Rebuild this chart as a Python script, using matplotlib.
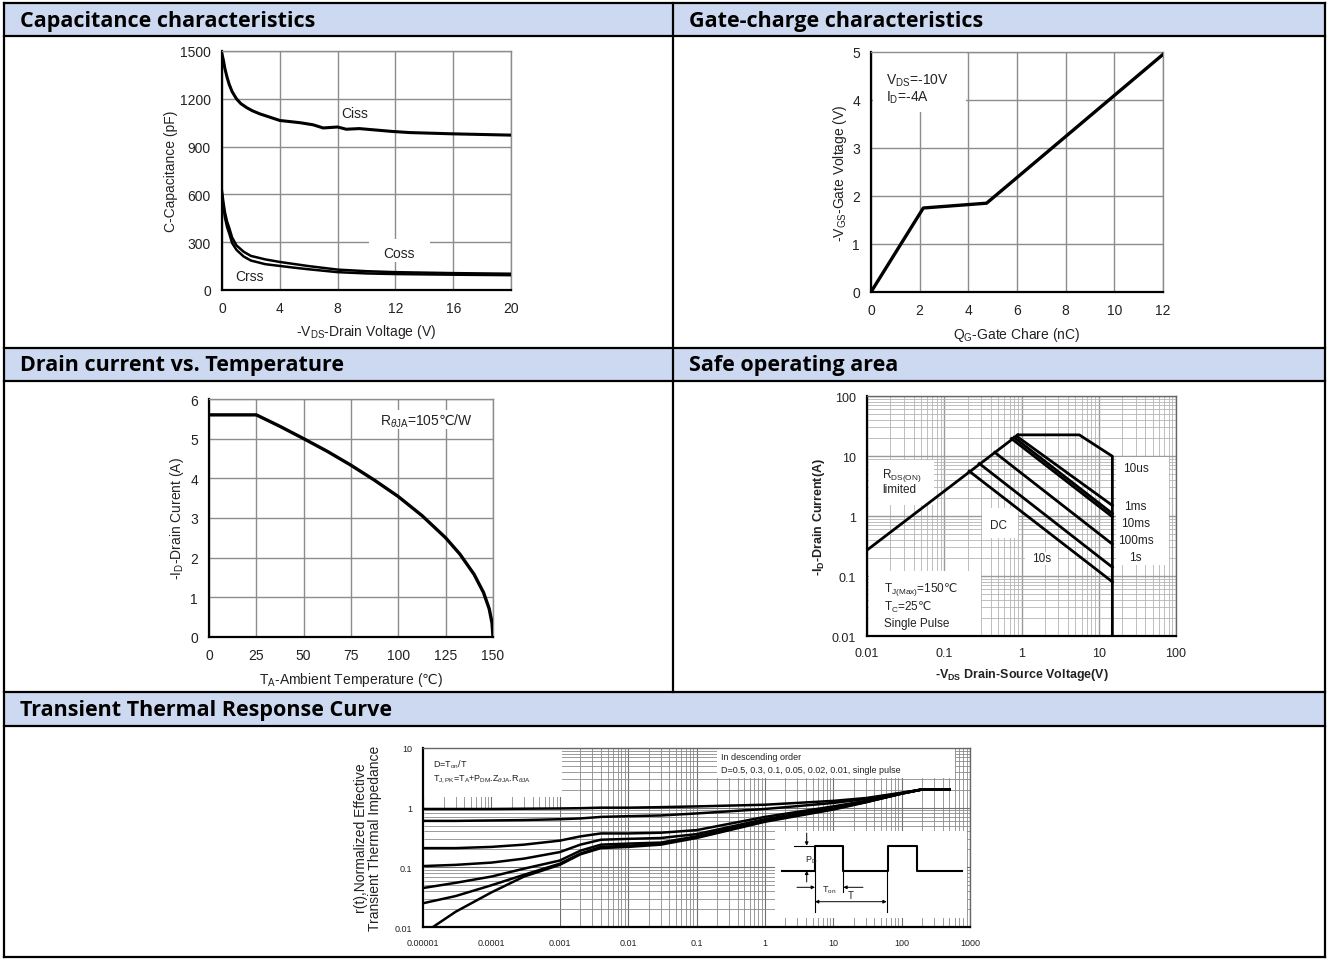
import numpy as np
import matplotlib.pyplot as plt
from matplotlib.patches import Rectangle
from matplotlib.ticker import FixedLocator, FixedFormatter, LogLocator, NullFormatter

plt.rcParams['font.family'] = ['Liberation Sans', 'DejaVu Sans']
plt.rcParams['mathtext.fontset'] = 'custom'
plt.rcParams['mathtext.rm'] = 'Liberation Sans'
plt.rcParams['mathtext.it'] = 'Liberation Sans:italic'
plt.rcParams['mathtext.bf'] = 'Liberation Sans:bold'
plt.rcParams['mathtext.sf'] = 'DejaVu Sans'

# ---------------- data ----------------
# capacitance vs -VDS
ciss_v = [0, 0.1, 0.2, 0.35, 0.5, 0.7, 1.0, 1.3, 1.7, 2.1, 2.6, 3.3, 4, 5.4, 6.3, 7, 8, 8.6, 9.5, 11.8, 13, 16, 20]
ciss_pf = [1480, 1440, 1390, 1335, 1290, 1245, 1200, 1170, 1145, 1125, 1106, 1085, 1064, 1050, 1037,
           1017, 1023, 1009, 1013, 995, 988, 980, 972]
coss_v = [0, 0.1, 0.2, 0.35, 0.5, 0.7, 1, 1.5, 2, 3, 4, 5, 6, 8, 10, 12, 16, 20]
coss_pf = [620, 550, 490, 430, 390, 330, 280, 240, 214, 192, 176, 163, 150, 128, 118, 112, 106, 102]
crss_v = [0, 0.1, 0.2, 0.35, 0.5, 0.7, 1, 1.5, 2, 3, 4, 5, 6, 8, 10, 12, 16, 20]
crss_pf = [600, 520, 455, 395, 355, 295, 252, 210, 185, 162, 151, 140, 130, 112, 104, 100, 96, 93]

# gate charge
gate_qg = [0, 2.15, 4.75, 12.0]
gate_vgs = [0, 1.75, 1.85, 4.95]

# drain current vs ambient temperature
temp_ta = [0, 25, 37.5, 50, 62.5, 75, 87.5, 100, 112.5, 125, 132.5, 140, 145, 148, 149.5, 150]
temp_id = [5.6, 5.6, 5.31, 5.0, 4.68, 4.33, 3.95, 3.54, 3.06, 2.5, 2.09, 1.58, 1.12, 0.71, 0.35, 0.0]

# safe operating area
soa_rds_v = [0.01, 0.9]
soa_rds_i = [0.27, 22.5]
soa_10us_v = [0.9, 5.6, 15, 15]
soa_10us_i = [22.5, 22.5, 9.9, 0.01]
soa_start_v = [0.86, 0.8, 0.74, 0.45, 0.284, 0.21]
soa_start_i = [21.5, 20.5, 19.5, 11.5, 7.5, 5.6]
soa_end_v = [15, 15, 15, 15, 15, 15]
soa_end_i = [1.5, 1.1, 0.97, 0.34, 0.14, 0.08]

# transient thermal impedance
zth_t = [1e-5, 3e-5, 1e-4, 3e-4, 1e-3, 2e-3, 4e-3, 1e-2, 3e-2, 1e-1, 1, 10, 30, 100, 200, 500]
zth_d05 = [0.95, 0.95, 0.95, 0.96, 0.97, 0.98, 1.0, 1.0, 1.02, 1.05, 1.12, 1.3, 1.45, 1.78, 2.02, 2.02]
zth_d03 = [0.6, 0.6, 0.61, 0.62, 0.64, 0.66, 0.7, 0.72, 0.74, 0.8, 0.95, 1.2, 1.4, 1.76, 2.02, 2.02]
zth_d01 = [0.21, 0.21, 0.22, 0.24, 0.28, 0.33, 0.37, 0.37, 0.38, 0.42, 0.7, 1.05, 1.3, 1.74, 2.02, 2.02]
zth_d005 = [0.105, 0.11, 0.12, 0.14, 0.18, 0.24, 0.29, 0.3, 0.31, 0.36, 0.64, 1.0, 1.27, 1.73, 2.02, 2.02]
zth_d002 = [0.045, 0.055, 0.07, 0.095, 0.13, 0.19, 0.24, 0.25, 0.26, 0.33, 0.61, 0.97, 1.25, 1.72, 2.02, 2.02]
zth_d001 = [0.025, 0.033, 0.05, 0.075, 0.115, 0.17, 0.22, 0.23, 0.25, 0.32, 0.6, 0.95, 1.24, 1.72, 2.02, 2.02]
zth_single_t = [1.4e-5, 3e-5, 1e-4, 3e-4, 1e-3, 2e-3, 4e-3, 1e-2, 3e-2, 1e-1, 1, 10, 30, 100, 200, 500]
zth_single = [0.01, 0.018, 0.038, 0.07, 0.11, 0.165, 0.21, 0.22, 0.24, 0.31, 0.58, 0.93, 1.23, 1.72, 2.02, 2.02]

section_titles = ['Capacitance characteristics', 'Gate-charge characteristics',
                  'Drain current vs. Temperature', 'Safe operating area',
                  'Transient Thermal Response Curve']

DEGC = r'$\mathsf{℃}$'

# ---------------- figure ----------------
W, H = 1328, 962
fig = plt.figure(figsize=(W / 100, H / 100), dpi=100)
TXT = '#222222'
GRID = '#8c8c8c'


def px_axes(x0, y0, x1, y1):
    return fig.add_axes([x0 / W, 1 - y1 / H, (x1 - x0) / W, (y1 - y0) / H])


def style_linear(ax, grid_color=GRID):
    ax.grid(True, color=grid_color, lw=1.0)
    ax.set_axisbelow(True)
    for s in ['left', 'bottom']:
        ax.spines[s].set_color('black')
        ax.spines[s].set_linewidth(1.6)
    for s in ['top', 'right']:
        ax.spines[s].set_color(grid_color)
        ax.spines[s].set_linewidth(1.0)
    ax.tick_params(length=0, labelsize=10, labelcolor=TXT, pad=8)


def mask(ax, x0, x1, y0, y1):
    ax.add_patch(Rectangle((x0, y0), x1 - x0, y1 - y0, facecolor='white',
                           edgecolor='none', zorder=1.2))


# --- capacitance ---
ax1 = px_axes(222, 52, 511, 291)
style_linear(ax1)
ax1.plot(ciss_v, ciss_pf, color='black', lw=2.2, zorder=3)
ax1.plot(coss_v, coss_pf, color='black', lw=1.8, zorder=3)
ax1.plot(crss_v, crss_pf, color='black', lw=1.8, zorder=3)
ax1.set_xlim(0, 20)
ax1.set_ylim(0, 1500)
ax1.set_xticks(range(0, 21, 4))
ax1.set_yticks(range(0, 1501, 300))
mask(ax1, 10.2, 14.4, 175, 320)
ax1.text(9.2, 1110, 'Ciss', ha='center', va='center', fontsize=10, color=TXT, zorder=4)
ax1.text(12.25, 235, 'Coss', ha='center', va='center', fontsize=10, color=TXT, zorder=4)
ax1.text(1.9, 90, 'Crss', ha='center', va='center', fontsize=10, color=TXT, zorder=4)
ax1.set_xlabel(r'-V$_\mathrm{DS}$-Drain Voltage (V)', fontsize=10, color=TXT, labelpad=5)
ax1.set_ylabel('C-Capacitance (pF)', fontsize=10, color=TXT, labelpad=1)

# --- gate charge ---
ax2 = px_axes(871, 53, 1163, 293)
style_linear(ax2)
ax2.plot(gate_qg, gate_vgs, color='black', lw=2.4, zorder=3)
ax2.set_xlim(0, 12)
ax2.set_ylim(0, 5)
ax2.set_xticks(range(0, 13, 2))
ax2.set_yticks(range(0, 6))
mask(ax2, 0.08, 3.9, 3.75, 4.97)
ax2.text(0.63, 4.42, r'V$_\mathrm{DS}$=-10V', ha='left', va='center', fontsize=10, color=TXT, zorder=4)
ax2.text(0.63, 4.06, r'I$_\mathrm{D}$=-4A', ha='left', va='center', fontsize=10, color=TXT, zorder=4)
ax2.set_xlabel(r'Q$_\mathrm{G}$-Gate Chare (nC)', fontsize=10, color=TXT, labelpad=6)
ax2.set_ylabel(r'-V$_\mathrm{GS}$-Gate Voltage (V)', fontsize=10, color=TXT, labelpad=2)

# --- drain current vs temperature ---
ax3 = px_axes(209, 400, 493, 638)
style_linear(ax3)
ax3.plot(temp_ta, temp_id, color='black', lw=2.4, zorder=3)
ax3.set_xlim(0, 150)
ax3.set_ylim(0, 6)
ax3.set_xticks(range(0, 151, 25))
ax3.set_yticks(range(0, 7))
mask(ax3, 90, 139, 5.25, 5.72)
ax3.text(115, 5.47, r'R$_{\theta\mathrm{JA}}$=105' + DEGC + '/W', ha='center', va='center',
         fontsize=10, color=TXT, zorder=4)
ax3.set_xlabel(r'T$_\mathrm{A}$-Ambient Temperature (' + DEGC + ')', fontsize=10, color=TXT,
               labelpad=6)
ax3.set_ylabel(r'-I$_\mathrm{D}$-Drain Curent (A)', fontsize=10, color=TXT, labelpad=3)


def style_log(ax, grid_major, grid_minor, lw_major, lw_minor):
    ax.set_xscale('log')
    ax.set_yscale('log')
    ax.xaxis.set_minor_locator(LogLocator(base=10, subs=range(2, 10), numticks=30))
    ax.yaxis.set_minor_locator(LogLocator(base=10, subs=range(2, 10), numticks=30))
    ax.xaxis.set_minor_formatter(NullFormatter())
    ax.yaxis.set_minor_formatter(NullFormatter())
    ax.grid(True, which='major', color=grid_major, lw=lw_major)
    ax.grid(True, which='minor', color=grid_minor, lw=lw_minor)
    ax.set_axisbelow(True)
    for s in ['left', 'bottom']:
        ax.spines[s].set_color('black')
        ax.spines[s].set_linewidth(1.6)
    for s in ['top', 'right']:
        ax.spines[s].set_color('#666666')
        ax.spines[s].set_linewidth(1.0)
    ax.tick_params(which='both', length=0, labelcolor=TXT)


# --- safe operating area ---
ax4 = px_axes(867, 397, 1176, 637)
style_log(ax4, '#9a9a9a', '#b4b4b4', 1.0, 0.6)
ax4.set_xlim(0.01, 100)
ax4.set_ylim(0.01, 100)
dec = [0.01, 0.1, 1, 10, 100]
dec_lbl = ['0.01', '0.1', '1', '10', '100']
ax4.xaxis.set_major_locator(FixedLocator(dec))
ax4.xaxis.set_major_formatter(FixedFormatter(dec_lbl))
ax4.yaxis.set_major_locator(FixedLocator(dec))
ax4.yaxis.set_major_formatter(FixedFormatter(dec_lbl))
ax4.tick_params(labelsize=9, pad=8)
mask(ax4, 0.0105, 0.074, 1.54, 8.7)
mask(ax4, 0.0105, 0.3, 0.0105, 0.12)
mask(ax4, 0.31, 0.91, 0.43, 1.37)
mask(ax4, 1.1, 3.0, 0.15, 0.25)
mask(ax4, 16.5, 80, 0.15, 9.5)
ax4.plot(soa_rds_v, soa_rds_i, color='black', lw=2.0, zorder=3)
ax4.plot(soa_10us_v, soa_10us_i, color='black', lw=2.0, zorder=3)
for v0, i0, v1, i1 in zip(soa_start_v, soa_start_i, soa_end_v, soa_end_i):
    ax4.plot([v0, v1], [i0, i1], color='black', lw=2.0, zorder=3)
soa_txt = dict(fontsize=8.5, color=TXT, zorder=4)
ax4.text(0.0158, 4.9, r'R$_\mathrm{DS(ON)}$', ha='left', va='center', **soa_txt)
ax4.text(0.0158, 2.85, 'limited', ha='left', va='center', **soa_txt)
ax4.text(0.5, 0.71, 'DC', ha='center', va='center', **soa_txt)
ax4.text(1.81, 0.197, '10s', ha='center', va='center', **soa_txt)
ax4.text(30, 6.2, '10us', ha='center', va='center', **soa_txt)
ax4.text(30, 1.44, '1ms', ha='center', va='center', **soa_txt)
ax4.text(30, 0.76, '10ms', ha='center', va='center', **soa_txt)
ax4.text(30, 0.40, '100ms', ha='center', va='center', **soa_txt)
ax4.text(30, 0.21, '1s', ha='center', va='center', **soa_txt)
ax4.text(0.0165, 0.062, r'T$_\mathrm{J(Max)}$=150' + DEGC, ha='left', va='center', **soa_txt)
ax4.text(0.0165, 0.0306, r'T$_\mathrm{C}$=25' + DEGC, ha='left', va='center', **soa_txt)
ax4.text(0.0165, 0.0162, 'Single Pulse', ha='left', va='center', **soa_txt)
ax4.set_xlabel(r'-V$_\mathbf{DS}$ Drain-Source Voltage(V)', fontsize=9, fontweight='bold',
               color=TXT, labelpad=5)
ax4.set_ylabel(r'-I$_\mathbf{D}$-Drain Current(A)', fontsize=9, fontweight='bold',
               color=TXT, labelpad=3)

# --- transient thermal impedance ---
ax5 = px_axes(423, 749, 970, 928)
style_log(ax5, '#707070', '#8a8a8a', 0.8, 0.6)
ax5.set_xlim(1e-5, 1000)
ax5.set_ylim(0.01, 10)
t_dec = [1e-5, 1e-4, 1e-3, 1e-2, 1e-1, 1, 10, 100, 1000]
t_lbl = ['0.00001', '0.0001', '0.001', '0.01', '0.1', '1', '10', '100', '1000']
ax5.xaxis.set_major_locator(FixedLocator(t_dec))
ax5.xaxis.set_major_formatter(FixedFormatter(t_lbl))
ax5.yaxis.set_major_locator(FixedLocator([0.01, 0.1, 1, 10]))
ax5.yaxis.set_major_formatter(FixedFormatter(['0.01', '0.1', '1', '10']))
ax5.tick_params(labelsize=6.5, pad=8)
mask(ax5, 1.05e-5, 1.07e-3, 1.5, 9.85)
mask(ax5, 1.05e-5, 1.0e-3, 0.0105, 0.97)
for yv in [0.02, 0.03, 0.04, 0.05, 0.06, 0.07, 0.08, 0.09, 0.1, 0.2, 0.3, 0.4, 0.5, 0.6, 0.7, 0.8, 0.9]:
    ax5.hlines(yv, 1.05e-5, 1.0e-3, color='#707070' if yv == 0.1 else '#8a8a8a',
               lw=0.8 if yv == 0.1 else 0.6, zorder=1.3)
mask(ax5, 0.2, 600, 3.2, 9.85)
mask(ax5, 1.4, 900, 0.014, 0.4)
for tt, zz in [(zth_t, zth_d05), (zth_t, zth_d03), (zth_t, zth_d01), (zth_t, zth_d005),
               (zth_t, zth_d002), (zth_t, zth_d001), (zth_single_t, zth_single)]:
    ax5.plot(tt, zz, color='black', lw=1.8, zorder=3)
th_txt = dict(fontsize=6.5, color=TXT, zorder=4, ha='left', va='center')
ax5.text(1.4e-5, 5.4, r'D=T$_\mathrm{on}$/T', **th_txt)
ax5.text(1.4e-5, 3.1, r'T$_\mathrm{J,PK}$=T$_\mathrm{A}$+P$_\mathrm{DM}$.Z$_{\theta\mathrm{JA}}$.R$_{\theta\mathrm{JA}}$',
         **th_txt)
ax5.text(0.23, 7.2, 'In descending order', **th_txt)
ax5.text(0.23, 4.3, 'D=0.5, 0.3, 0.1, 0.05, 0.02, 0.01, single pulse', **th_txt)
ax5.set_ylabel('r(t),Normalized Effective\nTransient Thermal Impedance', fontsize=10,
               color=TXT, labelpad=9, linespacing=1.0)

# ---------------- table frame, headers and pulse inset ----------------
ov = fig.add_axes([0, 0, 1, 1], zorder=10)
ov.set_xlim(0, W)
ov.set_ylim(H, 0)
ov.axis('off')

HEAD = '#CCD9F0'
for y0, y1 in [(4, 37), (349, 382), (693, 727)]:
    ov.add_patch(Rectangle((4, y0), 1321, y1 - y0, facecolor=HEAD, edgecolor='none'))
for y in [4, 37, 349, 382, 693, 727, 958]:
    ov.plot([4, 1325], [y, y], color='black', lw=1.6, solid_capstyle='projecting')
ov.plot([4, 4], [4, 958], color='black', lw=1.6)
ov.plot([1325, 1325], [4, 958], color='black', lw=1.6)
ov.plot([673, 673], [4, 693], color='black', lw=1.6)

for title, (tx, ty) in zip(section_titles, [(20, 21), (689, 21), (20, 366), (689, 366), (20, 711)]):
    ov.text(tx, ty, title, ha='left', va='center', fontsize=15.5, fontweight='bold',
            family='Open Sans', color='black')

# pulse schematic inside the thermal chart
px_ = [781.7, 815, 815, 843.3, 843.3, 888.3, 888.3, 916.7, 916.7, 961.7]
py_ = [871.7, 871.7, 846.7, 846.7, 871.7, 871.7, 846.7, 846.7, 871.7, 871.7]
ov.plot(px_, py_, color='black', lw=1.5)
ov.plot([794, 815], [846.7, 846.7], color='black', lw=0.8)
arr = dict(arrowstyle='-|>', color='black', lw=0.7, mutation_scale=5, shrinkA=0, shrinkB=0)
ov.annotate('', xy=(806.7, 846.7), xytext=(806.7, 834), arrowprops=arr)
ov.annotate('', xy=(806.7, 871.7), xytext=(806.7, 883), arrowprops=arr)
ov.text(811, 860, r'P$_\mathrm{D}$', fontsize=6.5, ha='center', va='center', color=TXT)
ov.plot([815, 815], [872, 913], color='black', lw=0.8)
ov.plot([843.3, 843.3], [872, 893], color='black', lw=0.8)
ov.plot([886.7, 886.7], [872, 913], color='black', lw=0.8)
ov.annotate('', xy=(815, 888.3), xytext=(797, 888.3), arrowprops=arr)
ov.annotate('', xy=(843.3, 888.3), xytext=(863, 888.3), arrowprops=arr)
ov.text(829, 890, r'T$_\mathrm{on}$', fontsize=6.5, ha='center', va='center', color=TXT)
ov.annotate('', xy=(886.7, 902.7), xytext=(815, 902.7),
            arrowprops=dict(arrowstyle='<|-|>', color='black', lw=0.7, mutation_scale=5,
                            shrinkA=0, shrinkB=0))
ov.text(851, 896, 'T', fontsize=7, ha='center', va='center', color=TXT)

fig.savefig('out.png', dpi=100, facecolor='white')
